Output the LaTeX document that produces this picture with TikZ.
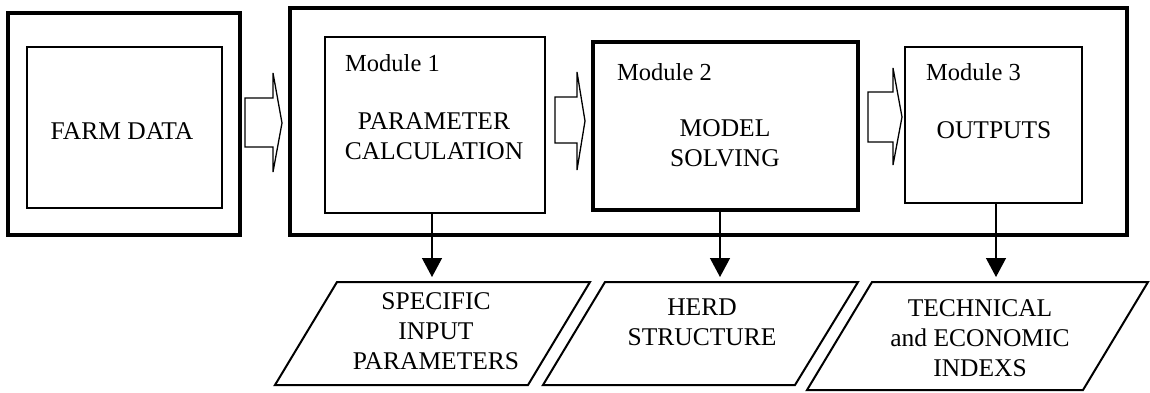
\documentclass[tikz,border=0pt]{standalone}
\usepackage{fontspec}
\setmainfont{Liberation Serif}
\usetikzlibrary{arrows.meta}

\tikzset{
  heavybox/.style={draw, line width=4pt, inner sep=0pt, outer sep=0pt},
  thinbox/.style={draw, line width=1.5pt, inner sep=0pt, outer sep=0pt},
  midbox/.style={draw, line width=3.4pt, inner sep=0pt, outer sep=0pt},
  txt/.style={align=center, inner sep=0pt, font=\fontsize{25.5}{30}\selectfont},
  modlabel/.style={anchor=west, inner sep=0pt, font=\fontsize{24.5}{28}\selectfont},
  blockarrow/.style={draw, line width=1.3pt, line join=miter, fill=white},
  outarrow/.style={draw, line width=1.3pt, -{Triangle[length=19pt,width=20pt]}},
  datashape/.style={draw, line width=2pt, line join=miter}
}

\begin{document}
\begin{tikzpicture}[x=1pt,y=-1pt]
  \useasboundingbox (0,0) rectangle (1150,392);

  % input data block
  \node[heavybox, minimum width=232pt, minimum height=222pt] (farmout) at (124,124) {};
  \node[thinbox, minimum width=195pt, minimum height=161pt] (farmin) at (124.5,127.5) {};
  \node[txt] (farmtxt) at (122,131) {FARM DATA};

  % model frame with its three modules
  \node[heavybox, minimum width=837pt, minimum height=227pt] (main) at (708.5,121.5) {};
  \node[thinbox, minimum width=220pt, minimum height=176pt] (m1) at (435,125) {};
  \node[midbox, minimum width=265pt, minimum height=168pt] (m2) at (725.5,126) {};
  \node[thinbox, minimum width=177pt, minimum height=156pt] (m3) at (993.5,125) {};

  \node[modlabel] (m1lab) at (345,63) {Module 1};
  \node[txt] (m1txt) at (434,136) {PARAMETER\\CALCULATION};
  \node[modlabel] (m2lab) at (617,72) {Module 2};
  \node[txt] (m2txt) at (725,143) {MODEL\\SOLVING};
  \node[modlabel] (m3lab) at (926,72) {Module 3};
  \node[txt] (m3txt) at (994,130) {OUTPUTS};

  % block arrows between stages
  \draw[blockarrow] (245,98) -- (273,98) -- (273,73) -- (282,123) -- (273,172) -- (273,147) -- (245,147) -- cycle;
  \draw[blockarrow] (555,97) -- (577,97) -- (577,72) -- (585,121) -- (577,170) -- (577,143) -- (555,143) -- cycle;
  \draw[blockarrow] (868,92) -- (893,92) -- (893,68) -- (902,117) -- (893,165) -- (893,142) -- (868,142) -- cycle;

  % output data shapes
  \draw[datashape] (337,282) -- (590,282) -- (528,385) -- (275,385) -- cycle;
  \draw[datashape] (605,282) -- (858,282) -- (795,385) -- (543,385) -- cycle;
  \draw[datashape] (872,282) -- (1148,282) -- (1083,390) -- (807,390) -- cycle;

  \node[txt] (p1) at (436,331) {SPECIFIC\\INPUT\\PARAMETERS};
  \node[txt] (p2) at (702,322) {HERD\\STRUCTURE};
  \node[txt] (p3) at (980,338) {TECHNICAL\\and ECONOMIC\\INDEXS};

  % module outputs
  \coordinate (t1) at (432,277);
  \coordinate (t2) at (720,277);
  \coordinate (t3) at (996,277);
  \draw[outarrow] (m1.south -| t1) -- (t1);
  \draw[outarrow] (m2.south -| t2) -- (t2);
  \draw[outarrow] (m3.south -| t3) -- (t3);
\end{tikzpicture}
\end{document}
